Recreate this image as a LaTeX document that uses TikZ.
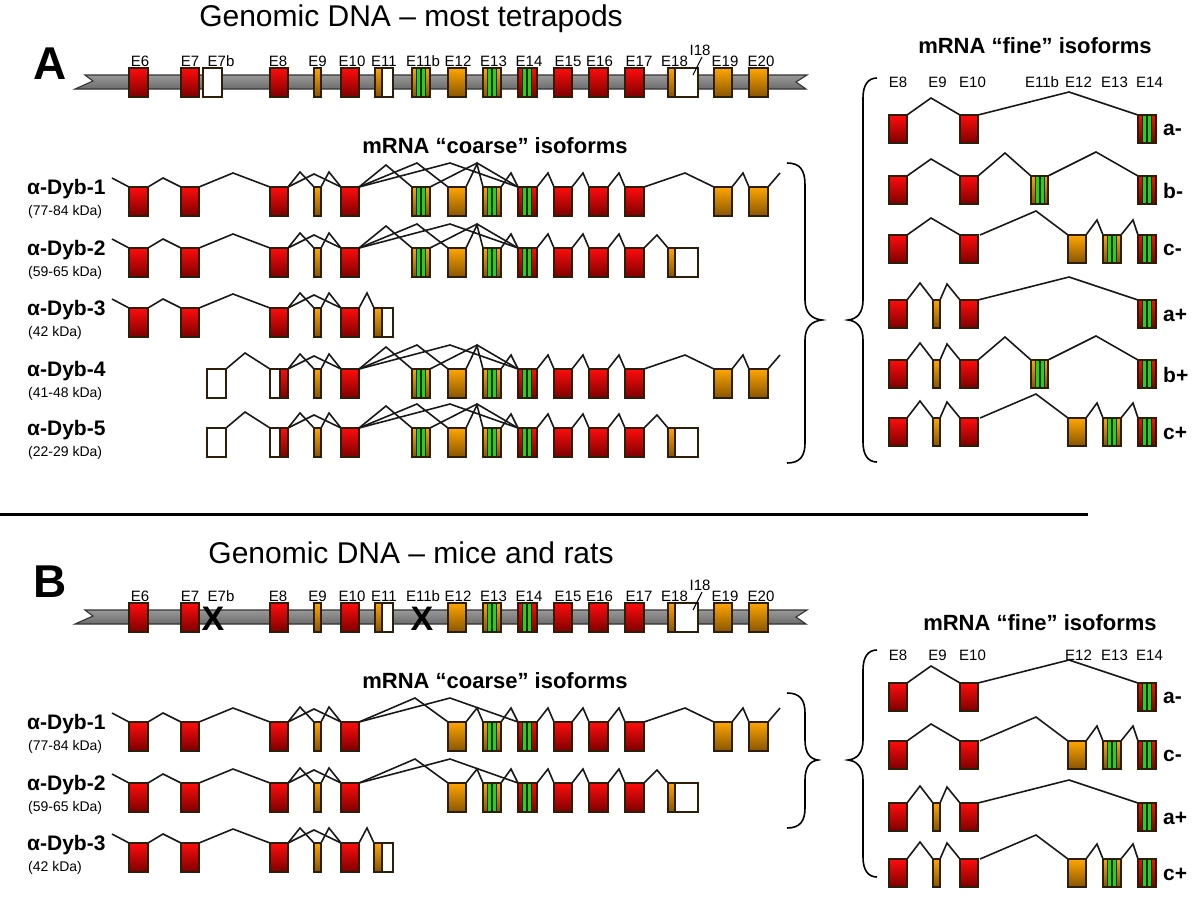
\documentclass[tikz,border=0pt]{standalone}
\usepackage{fontspec}
\setmainfont{Liberation Sans}
\definecolor{exRtop}{RGB}{255,12,12}
\definecolor{exRbot}{RGB}{125,0,0}
\definecolor{exOtop}{RGB}{255,166,0}
\definecolor{exObot}{RGB}{135,85,0}
\definecolor{exG}{RGB}{25,215,25}
\definecolor{exline}{RGB}{45,30,10}
\def\exh{29}
\newcommand{\exR}[3]{\shadedraw[top color=exRtop,bottom color=exRbot,exbox] (#1,#3) rectangle (#2,#3+\exh);}
\newcommand{\exO}[3]{\shadedraw[top color=exOtop,bottom color=exObot,exbox] (#1,#3) rectangle (#2,#3+\exh);}
\newcommand{\exW}[3]{\filldraw[fill=white,exbox] (#1,#3) rectangle (#2,#3+\exh);}
\newcommand{\grn}[2]{\filldraw[fill=exG,draw=exline,line width=1pt] (#1+4.5,#2) rectangle (#1+8.8,#2+\exh);\filldraw[fill=exG,draw=exline,line width=1pt] (#1+9.6,#2) rectangle (#1+13.5,#2+\exh);}
\newcommand{\exOs}[3]{\exO{#1}{#2}{#3}\grn{#1}{#3}\draw[exbox] (#1,#3) rectangle (#2,#3+\exh);}
\newcommand{\exRs}[3]{\exR{#1}{#2}{#3}\grn{#1}{#3}\draw[exbox] (#1,#3) rectangle (#2,#3+\exh);}
\newcommand{\exOW}[4]{\shade[top color=exOtop,bottom color=exObot] (#1,#4) rectangle (#2,#4+\exh);\fill[white] (#2,#4) rectangle (#3,#4+\exh);\draw[exbox] (#2,#4) -- (#2,#4+\exh);\draw[exbox] (#1,#4) rectangle (#3,#4+\exh);}
\newcommand{\exWR}[4]{\fill[white] (#1,#4) rectangle (#2,#4+\exh);\shade[top color=exRtop,bottom color=exRbot] (#2,#4) rectangle (#3,#4+\exh);\draw[exbox] (#2,#4) -- (#2,#4+\exh);\draw[exbox] (#1,#4) rectangle (#3,#4+\exh);}
\newcommand{\intr}[5]{\draw[intron] (#1,#5) -- (#2,#5-#3) -- (#4,#5);}
% genome
\newcommand{\genbar}[1]{\shadedraw[top color=gray!80,middle color=gray!30,bottom color=gray!85!black,draw=black!80,line width=1.1pt] (85,#1+7) -- (807,#1+7) -- (796,#1+14) -- (806,#1+21) -- (75,#1+21) -- (93,#1+13) -- cycle;}
\newcommand{\genexons}[1]{\exR{129}{148}{#1}\exR{181}{199}{#1}\exR{270}{288}{#1}\exO{314}{321}{#1}\exR{341}{359}{#1}\exOW{375}{382}{393}{#1}\exO{448}{466}{#1}\exOs{483}{501}{#1}\exRs{518}{537}{#1}\exR{554}{572}{#1}\exR{589}{608}{#1}\exR{625}{644}{#1}\exOW{668}{675}{698}{#1}\exO{714}{732}{#1}\exO{749}{768}{#1}}
% coarse rows
\newcommand{\dyheadA}[1]{\draw[intron] (112,#1-9) -- (129,#1);\intr{148}{163}{9}{181}{#1}\intr{199}{233}{14}{270}{#1}\intr{288}{300}{15}{314}{#1}\intr{321}{329}{15}{341}{#1}\intr{288}{314}{13}{341}{#1}\exR{129}{148}{#1}\exR{181}{199}{#1}\exR{270}{288}{#1}\exO{314}{321}{#1}\exR{341}{359}{#1}}
\newcommand{\dyheadB}[1]{\intr{226}{245}{16}{270}{#1}\intr{288}{300}{15}{314}{#1}\intr{321}{329}{15}{341}{#1}\intr{288}{314}{13}{341}{#1}\exW{207}{226}{#1}\exWR{270}{280}{288}{#1}\exO{314}{321}{#1}\exR{341}{359}{#1}}
\newcommand{\dyclA}[1]{\intr{359}{386}{22}{412}{#1}\intr{359}{417}{24}{448}{#1}\intr{359}{450}{24}{518}{#1}\intr{430}{477}{24}{518}{#1}\intr{466}{477}{23}{483}{#1}\intr{501}{511}{14}{518}{#1}\exOs{412}{430}{#1}\exO{448}{466}{#1}\exOs{483}{501}{#1}\exRs{518}{537}{#1}}
\newcommand{\dyclB}[1]{\intr{359}{415}{24}{448}{#1}\intr{359}{450}{24}{518}{#1}\intr{466}{477}{14}{483}{#1}\intr{501}{511}{14}{518}{#1}\exO{448}{466}{#1}\exOs{483}{501}{#1}\exRs{518}{537}{#1}}
\newcommand{\dymid}[1]{\intr{537}{548}{14}{554}{#1}\intr{572}{583}{14}{589}{#1}\intr{608}{619}{14}{625}{#1}\exR{554}{572}{#1}\exR{589}{608}{#1}\exR{625}{644}{#1}}
\newcommand{\dytailL}[1]{\intr{644}{685}{14}{714}{#1}\intr{732}{743}{14}{749}{#1}\draw[intron] (768,#1) -- (780,#1-14);\exO{714}{732}{#1}\exO{749}{768}{#1}}
\newcommand{\dytailS}[1]{\intr{644}{657}{13}{668}{#1}\exOW{668}{675}{698}{#1}}
\newcommand{\dytailT}[1]{\intr{359}{367}{15}{374}{#1}\exOW{374}{382}{393}{#1}}
% fine rows
\newcommand{\fnMinus}[1]{\intr{907}{931}{17}{960}{#1}\exR{889}{907}{#1}\exR{960}{978}{#1}}
\newcommand{\fnPlus}[1]{\intr{907}{920}{17}{933}{#1}\intr{940}{947}{16}{960}{#1}\exR{889}{907}{#1}\exO{933}{940}{#1}\exR{960}{978}{#1}}
\newcommand{\fnA}[1]{\intr{978}{1069}{23}{1138}{#1}\exRs{1138}{1156}{#1}}
\newcommand{\fnB}[1]{\intr{978}{1005}{23}{1031}{#1}\intr{1048}{1096}{24}{1138}{#1}\exOs{1031}{1048}{#1}\exRs{1138}{1156}{#1}}
\newcommand{\fnC}[1]{\intr{980}{1036}{24}{1068}{#1}\intr{1086}{1097}{15}{1103}{#1}\intr{1121}{1133}{15}{1138}{#1}\exO{1068}{1086}{#1}\exOs{1103}{1121}{#1}\exRs{1138}{1156}{#1}}
\begin{document}
\begin{tikzpicture}[x=1pt,y=-1pt,
 intron/.style={line width=1.6pt,black!90,line join=miter},
 exbox/.style={draw=exline,line width=1.4pt},
 exlab/.style={font=\fontsize{15}{17}\selectfont,inner sep=0pt},
 ttl/.style={font=\fontsize{30}{34}\selectfont,inner sep=0pt},
 hdr/.style={font=\bfseries\fontsize{22}{26}\selectfont,inner sep=0pt},
 panel/.style={font=\bfseries\fontsize{46}{50}\selectfont,inner sep=0pt},
 dyb/.style={font=\bfseries\fontsize{21}{24}\selectfont,inner sep=0pt,anchor=west},
 kda/.style={font=\fontsize{14}{16}\selectfont,inner sep=0pt,anchor=west},
 flab/.style={font=\bfseries\fontsize{21}{24}\selectfont,inner sep=0pt,anchor=west},
 xmark/.style={font=\bfseries\fontsize{34}{36}\selectfont,inner sep=0pt},
 brace/.style={line width=1.6pt,black},
 slash/.style={line width=1.1pt,black}]
\useasboundingbox (0,0) rectangle (1200,922);
\fill[white] (0,0) rectangle (1200,922);

% ================= PANEL A =================
\node[ttl] (titleA) at (411,19) {Genomic DNA – most tetrapods};
\node[panel] (pA) at (50,64) {A};
\genbar{68}
\genexons{68}
\exW{203}{222}{68}
\exOs{412}{430}{68}
\foreach \n/\x in {E6/140,E7/190,E7b/221,E8/278,E9/317.5,E10/352,E11/384,E11b/423,E12/458,E13/493.5,E14/529,E15/568,E16/599.5,E17/639,E18/674.5,E19/725,E20/761}
  \node[exlab] (ga\n) at (\x,61) {\n};
\node[exlab] (gaI18) at (700,50) {I18};
\coordinate (sa1) at (702,57);
\coordinate (sa2) at (693,75);
\draw[slash] (sa1) -- (sa2);

\node[hdr] (coarseA) at (495,146) {mRNA “coarse” isoforms};

\dyheadA{187}\dyclA{187}\dymid{187}\dytailL{187}
\dyheadA{248}\dyclA{248}\dymid{248}\dytailS{248}
\dyheadA{308}\dytailT{308}
\dyheadB{369}\dyclA{369}\dymid{369}\dytailL{369}
\dyheadB{428}\dyclA{428}\dymid{428}\dytailS{428}

\node[dyb] (dA1) at (27,189) {α-Dyb-1};
\node[kda] (kA1) at (28,212) {(77-84 kDa)};
\node[dyb] (dA2) at (27,250) {α-Dyb-2};
\node[kda] (kA2) at (28,273) {(59-65 kDa)};
\node[dyb] (dA3) at (27,310) {α-Dyb-3};
\node[kda] (kA3) at (28,333) {(42 kDa)};
\node[dyb] (dA4) at (27,371) {α-Dyb-4};
\node[kda] (kA4) at (28,394) {(41-48 kDa)};
\node[dyb] (dA5) at (27,430) {α-Dyb-5};
\node[kda] (kA5) at (28,453) {(22-29 kDa)};

% coarse brace A
\draw[brace] (787,163) .. controls (800,163) and (805,170) .. (805,185) -- (805,300) .. controls (805,313) and (812,319) .. (822,320) .. controls (812,321) and (805,327) .. (805,340) -- (805,443) .. controls (805,456) and (800,463) .. (787,463);

% fine A
\node[hdr] (fineA) at (1035,46) {mRNA “fine” isoforms};
\foreach \n/\x in {E8/898,E9/937.5,E10/972.5,E11b/1042,E12/1078.5,E13/1114.5,E14/1149.5}
  \node[exlab] (fa\n) at (\x,82) {\n};
\draw[brace] (877,78) .. controls (868,78) and (863,85) .. (863,98) -- (863,300) .. controls (863,313) and (857,319) .. (848,320) .. controls (857,321) and (863,327) .. (863,340) -- (863,442) .. controls (863,455) and (868,462) .. (877,462);
\def\exh{28}
\fnMinus{115}\fnA{115}
\fnMinus{176}\fnB{176}
\fnMinus{235}\fnC{235}
\fnPlus{300}\fnA{300}
\fnPlus{360}\fnB{360}
\fnPlus{418}\fnC{418}
\node[flab] (fA1) at (1163,130) {a-};
\node[flab] (fA2) at (1163,191) {b-};
\node[flab] (fA3) at (1163,250) {c-};
\node[flab] (fA4) at (1163,315) {a+};
\node[flab] (fA5) at (1163,375) {b+};
\node[flab] (fA6) at (1163,433) {c+};
\def\exh{29}

% divider
\coordinate (dv1) at (0,514);
\coordinate (dv2) at (1088,514);
\draw[line width=3pt] (dv1) -- (dv2);

% ================= PANEL B =================
\node[ttl] (titleB) at (411,553) {Genomic DNA – mice and rats};
\node[panel] (pB) at (50,582) {B};
\genbar{603}
\genexons{603}
\node[xmark] (xB1) at (213,619) {X};
\node[xmark] (xB2) at (422,619) {X};
\foreach \n/\x in {E6/140,E7/190,E7b/221,E8/278,E9/317.5,E10/352,E11/384,E11b/423,E12/458,E13/493.5,E14/529,E15/568,E16/599.5,E17/639,E18/674.5,E19/725,E20/761}
  \node[exlab] (gb\n) at (\x,596) {\n};
\node[exlab] (gbI18) at (700,585) {I18};
\coordinate (sb1) at (702,592);
\coordinate (sb2) at (693,610);
\draw[slash] (sb1) -- (sb2);

\node[hdr] (coarseB) at (495,681) {mRNA “coarse” isoforms};
\dyheadA{722}\dyclB{722}\dymid{722}\dytailL{722}
\dyheadA{783}\dyclB{783}\dymid{783}\dytailS{783}
\dyheadA{843}\dytailT{843}
\node[dyb] (dB1) at (27,724) {α-Dyb-1};
\node[kda] (kB1) at (28,747) {(77-84 kDa)};
\node[dyb] (dB2) at (27,785) {α-Dyb-2};
\node[kda] (kB2) at (28,808) {(59-65 kDa)};
\node[dyb] (dB3) at (27,845) {α-Dyb-3};
\node[kda] (kB3) at (28,868) {(42 kDa)};

\draw[brace] (787,693) .. controls (800,693) and (805,700) .. (805,713) -- (805,740) .. controls (805,753) and (810,759) .. (818,760) .. controls (810,761) and (805,767) .. (805,780) -- (805,808) .. controls (805,821) and (800,828) .. (787,828);

% fine B
\node[hdr] (fineB) at (1040,623) {mRNA “fine” isoforms};
\foreach \n/\x in {E8/898,E9/937.5,E10/972.5,E12/1078.5,E13/1114.5,E14/1149.5}
  \node[exlab] (fb\n) at (\x,655) {\n};
\draw[brace] (877,650) .. controls (868,650) and (863,657) .. (863,670) -- (863,740) .. controls (863,753) and (857,759) .. (848,760) .. controls (857,761) and (863,767) .. (863,780) -- (863,857) .. controls (863,870) and (868,877) .. (877,877);
\def\exh{28}
\fnMinus{683}\fnA{683}
\fnMinus{741}\fnC{741}
\fnPlus{803}\fnA{803}
\fnPlus{859}\fnC{859}
\node[flab] (fB1) at (1163,698) {a-};
\node[flab] (fB2) at (1163,756) {c-};
\node[flab] (fB3) at (1163,818) {a+};
\node[flab] (fB4) at (1163,874) {c+};
\end{tikzpicture}
\end{document}
